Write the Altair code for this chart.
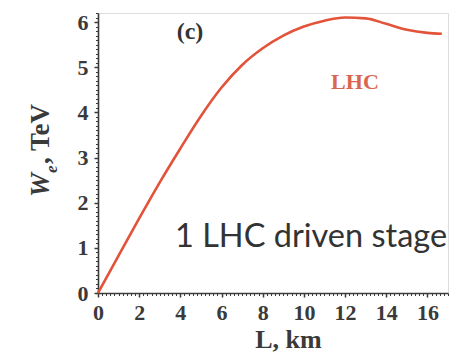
import altair as alt
import pandas as pd
import numpy as np

L_km = [0, 1, 2, 3, 4, 5, 6, 7, 8, 9, 10, 11, 12, 13, 14, 15, 16, 16.7]
W_TeV = [0, 0.83, 1.65, 2.45, 3.2, 3.92, 4.55, 5.05, 5.42, 5.7, 5.9, 6.03, 6.1, 6.08, 5.96, 5.83, 5.76, 5.74]

x_ticks = [0, 2, 4, 6, 8, 10, 12, 14, 16]
y_ticks = [0, 1, 2, 3, 4, 5, 6]
x_minor = [round(v, 2) for v in np.arange(0, 17.01, 0.2)]
y_minor = [round(v, 2) for v in np.arange(0, 6.21, 0.1)]

texts = ["(c)", "LHC", "1 LHC driven stage"]
text_x = [4.47, 12.48, 3.74]
text_y = [5.77, 4.67, 1.24]

df = pd.DataFrame({"L": L_km, "W": W_TeV})

XD = [0, 17]
YD = [0, 6.2]
serif = "Liberation Serif"
axc = "#3a3a3a"

xs = alt.Scale(domain=XD, nice=False, zero=False)
ys = alt.Scale(domain=YD, nice=False, zero=False)

line = alt.Chart(df).mark_line(color="#e2533a", strokeWidth=2.6, interpolate="monotone").encode(
    x=alt.X("L:Q", scale=xs, axis=alt.Axis(
        orient="bottom", values=x_ticks, title="L, km", titleFont=serif, titleFontSize=26,
        titleFontWeight="bold", titleColor=axc, titleX=190, titleY=54, titleBaseline="alphabetic",
        labelFont=serif, labelFontSize=22, labelFontWeight="bold",
        labelColor=axc, tickSize=4, tickColor=axc, tickWidth=1.5, domainColor=axc, domainWidth=1.6,
        labelPadding=5, grid=False, labelFlush=False)),
    y=alt.Y("W:Q", scale=ys, axis=alt.Axis(
        orient="left", values=y_ticks, title=None, labelFont=serif, labelFontSize=22, labelFontWeight="bold",
        labelColor=axc, tickSize=4, tickColor=axc, tickWidth=1.5, domainColor=axc, domainWidth=1.6,
        labelPadding=6, grid=False, labelFlush=False)),
)

minor_x = alt.Chart(pd.DataFrame({"xm": x_minor})).mark_point(opacity=0).encode(
    x=alt.X("xm:Q", scale=xs, axis=alt.Axis(values=x_minor, labels=False, title=None, tickSize=2.5,
                                              tickColor=axc, domain=False, grid=False, orient="bottom")),
)
minor_y = alt.Chart(pd.DataFrame({"ym": y_minor})).mark_point(opacity=0).encode(
    y=alt.Y("ym:Q", scale=ys, axis=alt.Axis(values=y_minor, labels=False, title=None, tickSize=2.5,
                                              tickColor=axc, domain=False, grid=False, orient="left")),
)

tdf = pd.DataFrame({"t": texts, "x": text_x, "y": text_y})
t_c = alt.Chart(tdf.iloc[[0]]).mark_text(font=serif, fontSize=24, fontWeight="bold", color="#333333").encode(
    x=alt.X("x:Q", scale=xs, axis=None), y=alt.Y("y:Q", scale=ys, axis=None), text="t:N")
t_lhc = alt.Chart(tdf.iloc[[1]]).mark_text(font=serif, fontSize=22, fontWeight="bold", color="#d9674f").encode(
    x=alt.X("x:Q", scale=xs, axis=None), y=alt.Y("y:Q", scale=ys, axis=None), text="t:N")
t_stage = alt.Chart(tdf.iloc[[2]]).mark_text(font="Lato", fontSize=32.5, color="#333333", align="left").encode(
    x=alt.X("x:Q", scale=xs, axis=None), y=alt.Y("y:Q", scale=ys, axis=None), text="t:N")

# y-axis title pieces: italic W, subscript e, ", TeV"
yt = pd.DataFrame({"p": ["W", "e", ", TeV"]})
t_W = alt.Chart(yt.iloc[[0]]).mark_text(font=serif, fontSize=27, fontWeight="bold", fontStyle="italic",
                                        angle=270, align="left", baseline="middle", color=axc).encode(
    text="p:N", x=alt.value(-57), y=alt.value(184))
t_e = alt.Chart(yt.iloc[[1]]).mark_text(font=serif, fontSize=17, fontWeight="bold", fontStyle="italic",
                                        angle=270, align="left", baseline="middle", color=axc).encode(
    text="p:N", x=alt.value(-46), y=alt.value(160))
t_tev = alt.Chart(yt.iloc[[2]]).mark_text(font=serif, fontSize=27, fontWeight="bold",
                                          angle=270, align="left", baseline="middle", color=axc).encode(
    text="p:N", x=alt.value(-57), y=alt.value(151))

chart = alt.layer(minor_x, minor_y, line, t_c, t_lhc, t_stage, t_W, t_e, t_tev).resolve_axis(
    x="independent", y="independent"
).properties(
    width=350, height=280,
    autosize=alt.AutoSizeParams(type="none"),
    padding={"left": 90, "top": 5, "right": 16, "bottom": 60},
).configure_view(stroke=None).configure(background="white")

chart.save("out.html", embed_options={"renderer": "svg", "actions": False})
